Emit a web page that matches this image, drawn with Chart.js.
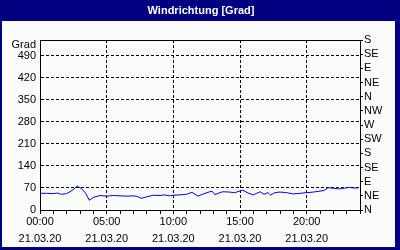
<!DOCTYPE html>
<html>
<head>
<meta charset="utf-8">
<script src="https://cdn.jsdelivr.net/npm/chart.js@4/dist/chart.umd.min.js"></script>
<style>
html,body{margin:0;padding:0;background:#000080;}
canvas{display:block;}
</style>
</head>
<body>
<canvas id="c" width="400" height="250"></canvas>
<script>
const chartTitle = 'Windrichtung [Grad]';
const dateLabel = '21.03.20';
const leftUnit = 'Grad';
const hours = [0,0.5,1.0,1.3,1.6,2.0,2.4,2.8,3.1,3.4,3.7,4.0,4.5,5.0,5.5,6.0,6.5,7.0,7.3,7.6,8.0,8.5,9.0,9.3,9.7,10.0,10.5,11.0,11.4,11.85,12.3,12.9,13.1,13.7,14.2,14.6,15.2,15.6,16.0,16.5,16.8,17.1,17.3,17.6,18.0,18.5,19.0,19.5,20.0,20.5,21.0,21.3,21.6,22.0,22.4,22.8,23.2,23.5,23.85];
const direction = [53,53,52,54,50,52,62,76,68,55,31,40,46,44,46,45,44,45,43,37,42,47,46,48,45,47,48,50,56,44,52,60,49,58,57,55,63,54,48,58,50,55,47,55,57,55,51,53,55,57,60,62,71,69,67,69,72,70,70];
const compassLabels = ['N','NE','E','SE','S','SW','W','NW','N','NE','E','SE','S'];
const yMax = 540;
const leftStep = 70;
const rightStep = 45;
const unitTickValue = 525;

const frame = {
  id: 'frame',
  beforeDraw(chart) {
    const ctx = chart.ctx;
    ctx.save();
    ctx.fillStyle = '#000080';
    ctx.fillRect(0, 0, chart.width, chart.height);
    ctx.fillStyle = '#fafdfa';
    ctx.fillRect(2, 21, chart.width - 7, chart.height - 24);
    ctx.restore();
  }
};

const F = "'Liberation Sans', Arial, sans-serif";

new Chart(document.getElementById('c'), {
  type: 'line',
  data: {
    datasets: [{
      data: hours.map((h, i) => ({x: h, y: direction[i]})),
      borderColor: '#0000ff',
      borderWidth: 1,
      pointRadius: 0,
      tension: 0,
      fill: false
    }]
  },
  options: {
    responsive: false,
    animation: false,
    devicePixelRatio: 1,
    layout: {padding: {top: 0, left: 2, right: 0, bottom: 0}},
    plugins: {
      legend: {display: false},
      tooltip: {enabled: false},
      title: {
        display: true,
        text: chartTitle,
        color: '#ffffff',
        font: {family: F, size: 11, weight: 'bold', lineHeight: 1.2},
        padding: {top: 4, bottom: 22.8}
      }
    },
    scales: {
      x: {
        type: 'linear',
        min: 0, max: 24,
        afterBuildTicks(s) { s.ticks = []; for (let h = 0; h <= 24; h++) s.ticks.push({value: h}); },
        afterFit(s) { s.height = 40; },
        ticks: {
          autoSkip: false, maxRotation: 0, padding: 0,
          color: '#000',
          font: {family: F, size: 11, lineHeight: 1.5},
          callback(v) { return v % 5 === 0 ? [String(v).padStart(2, '0') + ':00', dateLabel] : ''; }
        },
        grid: {
          color: c => (c.tick && c.tick.value % 5 === 0 && c.tick.value > 0 && c.tick.value < 24) ? '#000' : 'transparent',
          tickColor: '#000',
          tickLength: 4,
          tickBorderDash: [],
          lineWidth: 1
        },
        border: {display: true, color: '#000', width: 1, dash: [3, 2]}
      },
      xTop: {
        type: 'linear', position: 'top', min: 0, max: 24,
        ticks: {display: false},
        grid: {display: false, drawTicks: false},
        afterFit(s) { s.height = 0; },
        border: {display: true, color: '#000', width: 1}
      },
      y: {
        position: 'left',
        min: 0, max: yMax,
        afterBuildTicks(s) { s.ticks = []; for (let v = 0; v <= 490; v += leftStep) s.ticks.push({value: v}); s.ticks.push({value: unitTickValue}); },
        afterFit(s) { s.width = 38; },
        ticks: {
          autoSkip: false,
          color: '#000', padding: 4,
          font: {family: F, size: 11},
          callback(v) { return v === unitTickValue ? leftUnit : String(v); }
        },
        grid: {
          drawTicks: false,
          color: c => (c.tick && c.tick.value > 0 && c.tick.value !== unitTickValue) ? '#000' : 'transparent',
          lineWidth: 1
        },
        border: {display: true, color: '#000', width: 1, dash: [3, 2]}
      },
      y2: {
        position: 'right',
        min: 0, max: yMax,
        afterBuildTicks(s) { s.ticks = []; for (let v = 0; v <= yMax; v += rightStep) s.ticks.push({value: v}); },
        afterFit(s) { s.width = 40; },
        ticks: {
          autoSkip: false,
          color: '#000', padding: 1,
          font: {family: F, size: 11},
          callback(v) { return compassLabels[Math.round(v / rightStep)]; }
        },
        grid: {drawOnChartArea: false, tickColor: '#000', tickLength: 3},
        border: {display: true, color: '#000', width: 1}
      }
    }
  },
  plugins: [frame]
});
</script>
</body>
</html>
